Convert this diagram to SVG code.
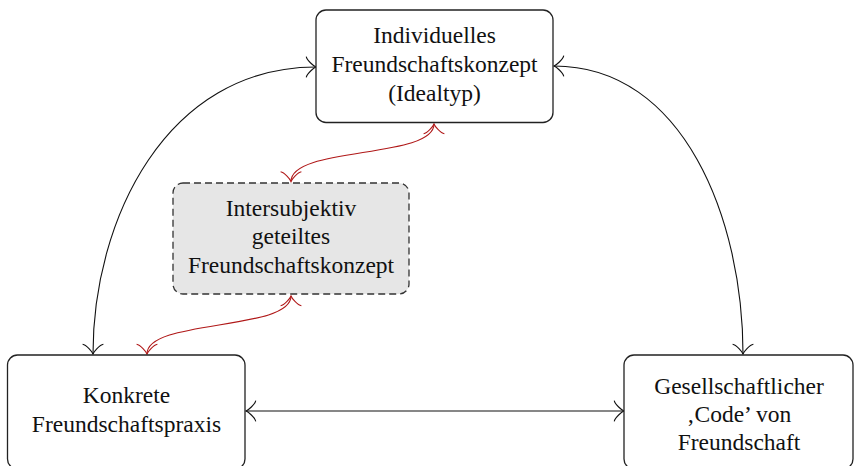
<svg xmlns="http://www.w3.org/2000/svg" width="855" height="466" viewBox="0 0 855 466">
<style>
.box{fill:#fff;stroke:#222;stroke-width:1.3}
.dash{fill:#e6e6e6;stroke:#333;stroke-width:1.3;stroke-dasharray:7 4}
text{font-family:"Liberation Serif","DejaVu Serif",serif;font-size:23.5px;fill:#111;text-anchor:middle}
.c{fill:none;stroke:#111;stroke-width:1.1}
.r{fill:none;stroke:#b01818;stroke-width:1.1}
</style>
<defs>
<marker id="ab" markerUnits="userSpaceOnUse" orient="auto-start-reverse" refX="0" refY="0" markerWidth="30" markerHeight="30" viewBox="-15 -15 30 30" overflow="visible">
<path d="M -9.75 10.4 C -9.1 6.5 -1.95 0.65 0 0 C -1.95 -0.65 -9.1 -6.5 -9.75 -10.4" fill="none" stroke="#111" stroke-width="1.1"/>
</marker>
<marker id="ar" markerUnits="userSpaceOnUse" orient="auto-start-reverse" refX="0" refY="0" markerWidth="30" markerHeight="30" viewBox="-15 -15 30 30" overflow="visible">
<path d="M -9.75 10.4 C -9.1 6.5 -1.95 0.65 0 0 C -1.95 -0.65 -9.1 -6.5 -9.75 -10.4" fill="none" stroke="#b01818" stroke-width="1.1"/>
</marker>
</defs>
<g id="connectors">
<path class="c" d="M 316 67 C 166 67 93 220 93 354" marker-start="url(#ab)" marker-end="url(#ab)"/>
<path class="c" d="M 554 66 C 684 66 743 220 743 354" marker-start="url(#ab)" marker-end="url(#ab)"/>
<path class="c" d="M 246 411 L 624 411" marker-start="url(#ab)" marker-end="url(#ab)"/>
<path class="r" d="M 434 124 C 434 159 291 146 291 181.5" marker-start="url(#ar)" marker-end="url(#ar)"/>
<path class="r" d="M 291 296 C 291 331 147 319 147 354" marker-start="url(#ar)" marker-end="url(#ar)"/>
</g>
<g id="n-individuell">
<rect class="box" x="316" y="10" width="237" height="112.5" rx="10"/>
<text x="434.5" y="43.3">Individuelles</text>
<text x="434.5" y="72.3">Freundschaftskonzept</text>
<text x="434.5" y="100.5">(Idealtyp)</text>
</g>
<g id="n-intersubjektiv">
<rect class="dash" x="173" y="183" width="236" height="111" rx="10"/>
<text x="291" y="216">Intersubjektiv</text>
<text x="291" y="244.3">geteiltes</text>
<text x="291" y="272.7">Freundschaftskonzept</text>
</g>
<g id="n-praxis">
<rect class="box" x="7.5" y="355" width="237.5" height="114" rx="10"/>
<text x="126.5" y="403.3">Konkrete</text>
<text x="126.5" y="431.7">Freundschaftspraxis</text>
</g>
<g id="n-code">
<rect class="box" x="624" y="355" width="229" height="114" rx="10"/>
<text x="739" y="394">Gesellschaftlicher</text>
<text x="739" y="422.3">‚Code’ von</text>
<text x="739" y="450">Freundschaft</text>
</g>
</svg>
